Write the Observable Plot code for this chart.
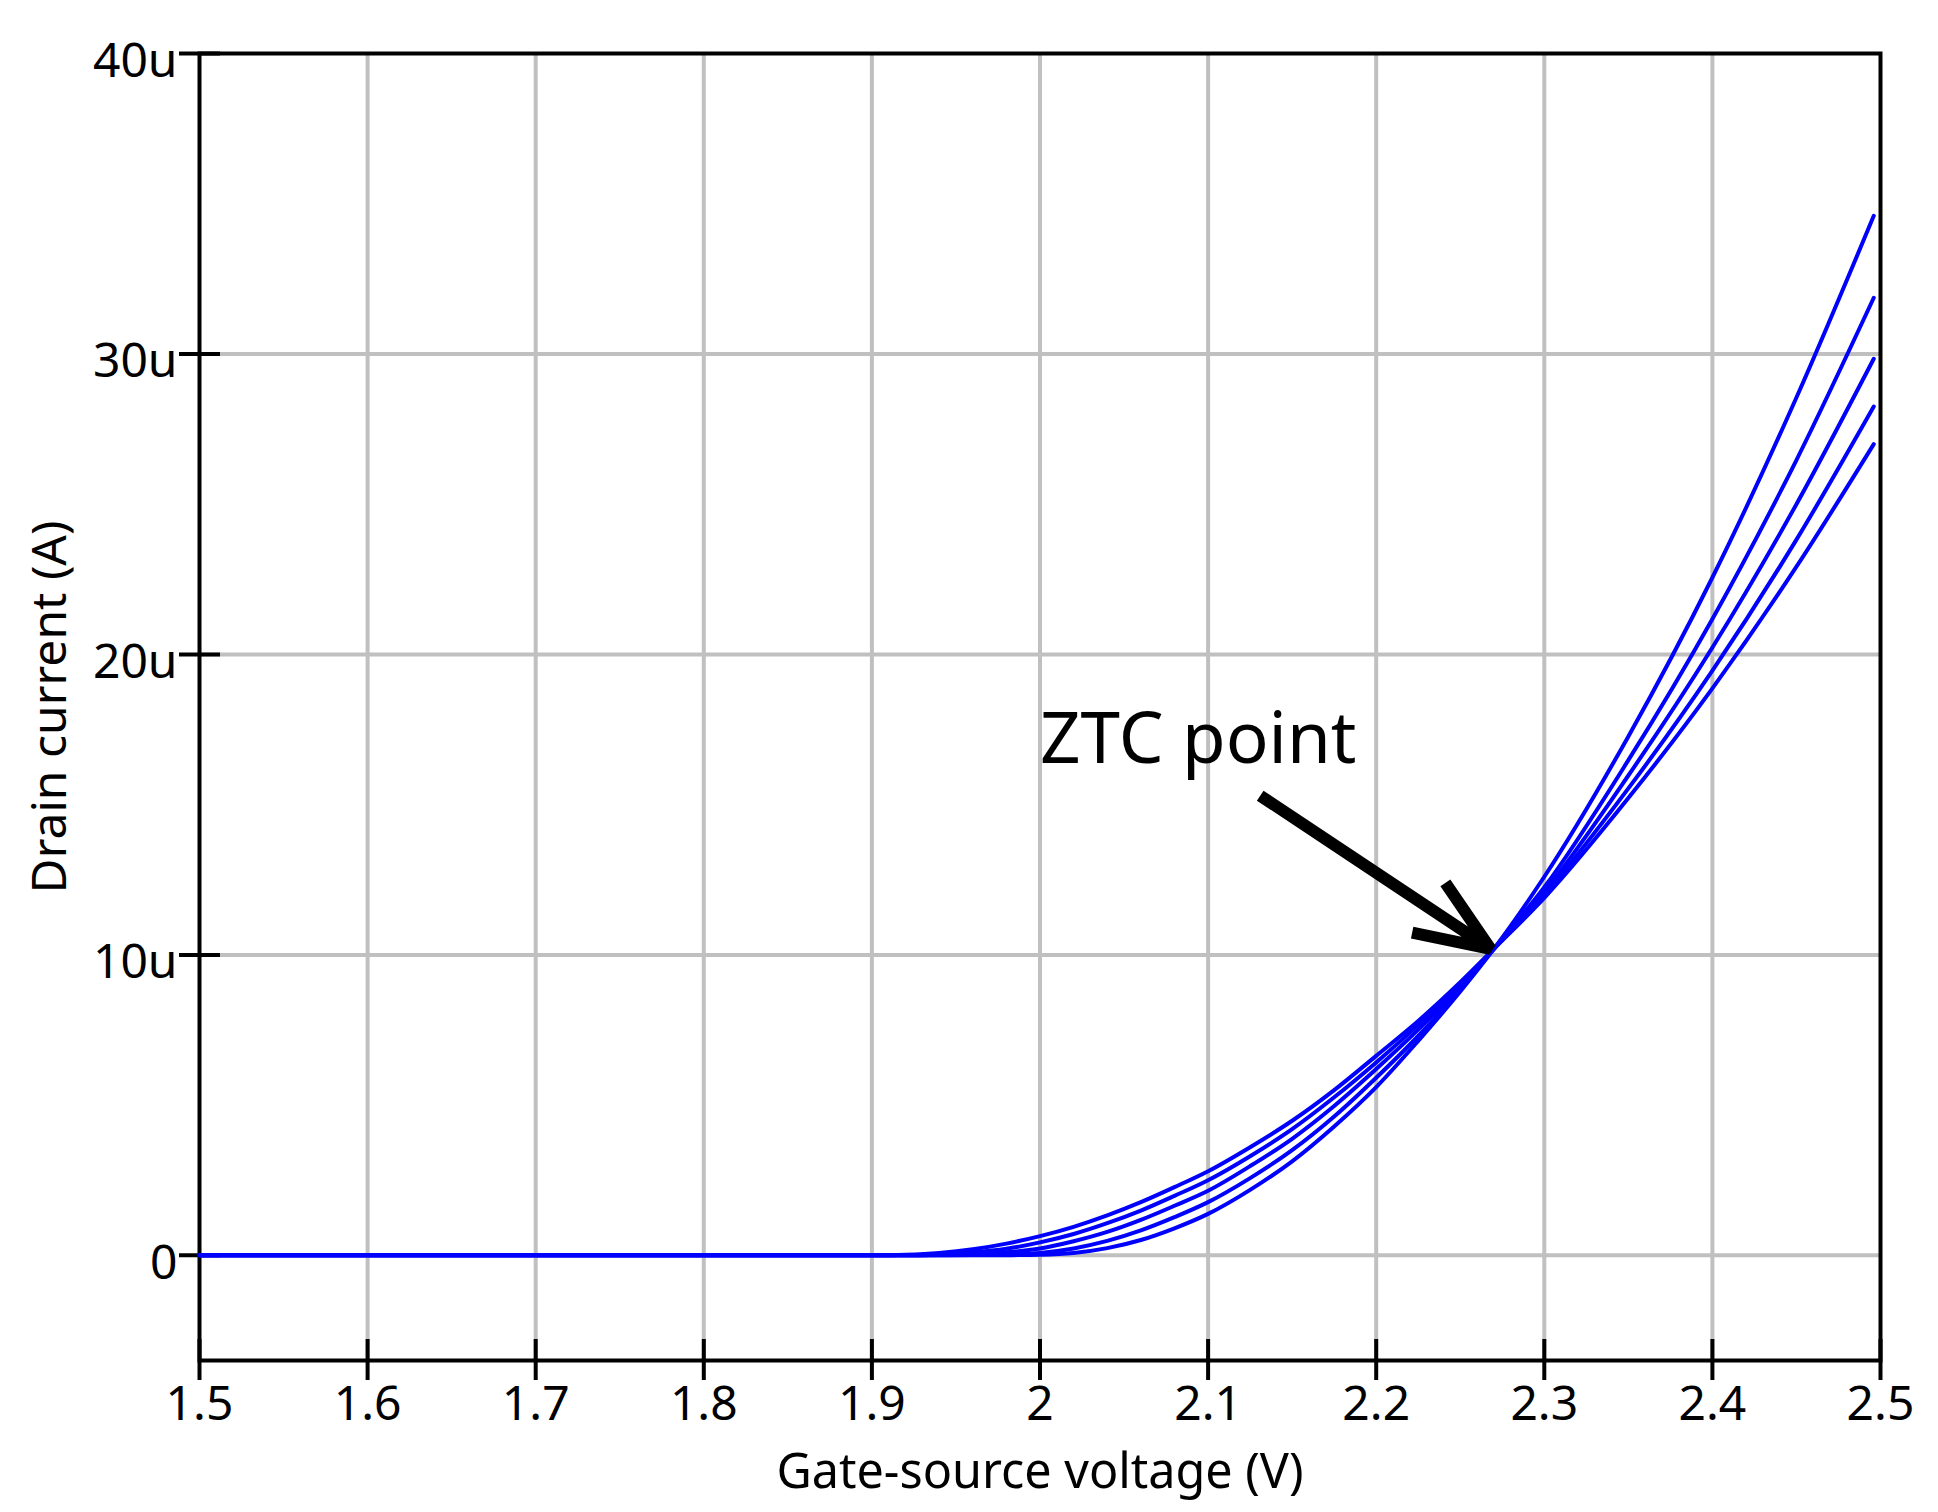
<!DOCTYPE html>
<html>
<head>
<meta charset="utf-8">
<script src="https://cdn.jsdelivr.net/npm/d3@7"></script>
<script src="https://cdn.jsdelivr.net/npm/@observablehq/plot@0.6"></script>
<style>
  html, body { margin: 0; padding: 0; background: #fff; }
</style>
</head>
<body>
<div id="chart"></div>
<script>
// Gate-source voltage samples (V)
const vgs = [1.5, 1.9, 1.92, 1.94, 1.96, 1.98, 2.0, 2.02, 2.04, 2.06, 2.08, 2.1, 2.125, 2.15, 2.175, 2.2, 2.225, 2.25, 2.27, 2.3, 2.35, 2.4, 2.45, 2.496];
// Drain current (µA) for five temperatures
const curveA = [0, 0, 0.02, 0.08, 0.2, 0.39, 0.64, 0.95, 1.33, 1.77, 2.27, 2.8, 3.6, 4.48, 5.5, 6.64, 7.8, 9.09, 10.2, 11.9, 15.22, 18.87, 22.92, 27.0];
const curveB = [0, 0, 0, 0.03, 0.1, 0.22, 0.43, 0.71, 1.07, 1.49, 1.98, 2.5, 3.3, 4.2, 5.26, 6.42, 7.67, 9.02, 10.2, 12.0, 15.54, 19.46, 23.82, 28.25];
const curveC = [0, 0, 0, 0.01, 0.04, 0.1, 0.23, 0.47, 0.78, 1.18, 1.65, 2.15, 2.97, 3.88, 4.97, 6.2, 7.51, 8.95, 10.2, 12.1, 15.97, 20.23, 25.0, 29.84];
const curveD = [0, 0, 0, 0, 0.01, 0.03, 0.08, 0.23, 0.48, 0.83, 1.27, 1.77, 2.57, 3.5, 4.62, 5.91, 7.3, 8.84, 10.2, 12.25, 16.48, 21.18, 26.47, 31.87];
const curveE = [0, 0, 0, 0, 0, 0.005, 0.02, 0.08, 0.24, 0.51, 0.9, 1.38, 2.18, 3.13, 4.29, 5.6, 7.14, 8.78, 10.2, 12.6, 17.27, 22.56, 28.55, 34.6];
const seriesNames = ["A", "B", "C", "D", "E"];
const seriesValues = [curveA, curveB, curveC, curveD, curveE];

// Axis ticks
const xTicks = [1.5, 1.6, 1.7, 1.8, 1.9, 2.0, 2.1, 2.2, 2.3, 2.4, 2.5];
const yTicks = [0, 10, 20, 30, 40];
const xTitle = "Gate-source voltage (V)";
const yTitle = "Drain current (A)";

// Annotation
const annotationText = ["ZTC point"];
const annotationPos = [{x: 2.0, y: 16.4}];
const ztcArrow = [{x1: 2.131, y1: 15.3, x2: 2.268, y2: 10.2}];

const rows = [];
seriesValues.forEach((vals, k) => {
  vals.forEach((v, i) => rows.push({s: seriesNames[k], v: vgs[i], i: v}));
});

const fmtX = d => String(+d.toFixed(1));
const fmtY = d => d === 0 ? "0" : `${d}u`;

const chart = Plot.plot({
  width: 1938,
  height: 1512,
  marginLeft: 199,
  marginRight: 58,
  marginTop: 53,
  marginBottom: 152,
  style: {fontFamily: "'Noto Sans', sans-serif", background: "#fff", color: "#000"},
  x: {domain: [1.5, 2.5], label: null},
  y: {domain: [-3.5, 40], label: null},
  marks: [
    Plot.gridX(xTicks.slice(1, -1), {stroke: "#c0c0c0", strokeOpacity: 1, strokeWidth: 4}),
    Plot.gridY(yTicks.slice(0, -1), {stroke: "#c0c0c0", strokeOpacity: 1, strokeWidth: 4}),
    Plot.frame({stroke: "#000", strokeWidth: 4}),
    Plot.axisX(xTicks, {tickSize: 41, dy: -21, strokeWidth: 4, tickFormat: () => "", label: null}),
    Plot.axisX(xTicks, {tickSize: 0, tickPadding: 25, fontSize: 48, tickFormat: fmtX, label: null}),
    Plot.axisY(yTicks, {tickSize: 41, dx: 21, strokeWidth: 4, tickFormat: () => "", label: null}),
    Plot.axisY(yTicks, {tickSize: 0, tickPadding: 22, dy: 8, fontSize: 48, tickFormat: fmtY, label: null}),
    Plot.line(rows, {x: "v", y: "i", z: "s", stroke: "#0000ff", strokeWidth: 4, curve: "monotone-x"}),
    Plot.text([xTitle], {frameAnchor: "bottom", dy: 127, lineAnchor: "bottom", textAnchor: "middle", fontSize: 48.5, fill: "#000"}),
    Plot.text([yTitle], {frameAnchor: "left", dx: -134, rotate: -90, lineAnchor: "bottom", textAnchor: "middle", fontSize: 48, fill: "#000"}),
    Plot.arrow(ztcArrow, {x1: "x1", y1: "y1", x2: "x2", y2: "y2", stroke: "#000", strokeWidth: 12,
      headAngle: 44, headLength: 10, strokeLinecap: "butt", strokeLinejoin: "miter"}),
    Plot.text(annotationText, {x: annotationPos.map(d => d.x), y: annotationPos.map(d => d.y),
      text: d => d, textAnchor: "start", lineAnchor: "bottom", fontSize: 71, fill: "#000"})
  ]
});
document.getElementById("chart").appendChild(chart);
</script>
</body>
</html>
